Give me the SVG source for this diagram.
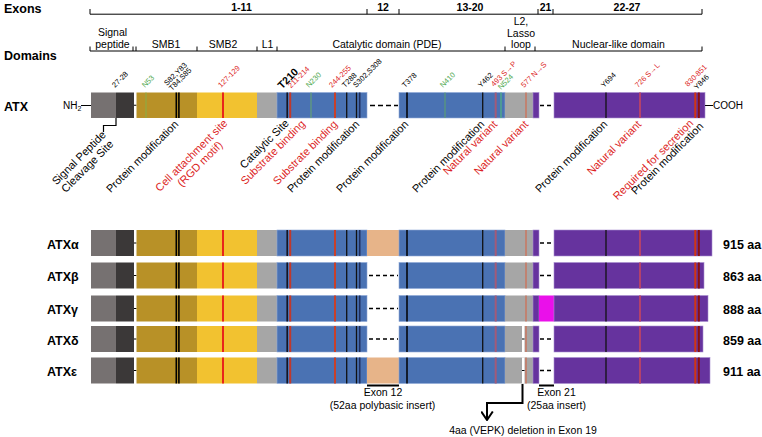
<svg xmlns="http://www.w3.org/2000/svg" width="762" height="437" viewBox="0 0 762 437">
<style>
text{font-family:"Liberation Sans",Arial,sans-serif;fill:#000}
.h{font-size:12.5px;font-weight:bold}
.ex{font-size:10.5px;font-weight:bold;text-anchor:middle}
.dm{font-size:10.5px;text-anchor:middle}
.lb{font-size:11px;text-anchor:end}
.lc{font-size:11px;text-anchor:middle}
.bt{font-size:10.5px;text-anchor:middle}
.sm{font-size:7.5px}
.red{fill:#dc1f1f}
.grn{fill:#4fa84f}
.axis{stroke:#000;stroke-width:1;fill:none}
.k{stroke:#111;stroke-width:1.3}
.dash{stroke:#000;stroke-width:1.3;stroke-dasharray:4 3;fill:none}
.blue{fill:#4a72b3;stroke:#8fa9d8;stroke-width:0.6}
.pur{fill:#66339e;stroke:#a88fd0;stroke-width:0.6}
.gry{fill:#a6a6a6}
.pch{fill:#e7b489}
</style>
<defs>
<g id="left">
<rect x="91" y="0" width="25" height="26" fill="#767171"/>
<rect x="116" y="0" width="18" height="26" fill="#3b3838"/>
<line x1="134" y1="13" x2="136.5" y2="13" stroke="#000" stroke-width="1"/>
<rect x="136.5" y="0" width="60.5" height="26" fill="#b89127"/>
<rect x="197" y="0" width="60" height="26" fill="#f2c230"/>
<rect x="257" y="0" width="20" height="26" class="gry"/>
<rect x="277" y="0" width="90" height="26" class="blue"/>
<line x1="176.3" y1="0" x2="176.3" y2="26" stroke="#000" stroke-width="1.6"/>
<line x1="178.9" y1="0" x2="178.9" y2="26" stroke="#000" stroke-width="1.6"/>
<line x1="223" y1="0" x2="223" y2="26" stroke="#e8261a" stroke-width="2"/>
<line x1="287.2" y1="0" x2="287.2" y2="26" stroke="#151520" stroke-width="1.6"/>
<line x1="290.2" y1="0" x2="290.2" y2="26" stroke="#c0392b" stroke-width="2"/>
<line x1="335" y1="0" x2="335" y2="26" stroke="#c8402a" stroke-width="2"/>
<line x1="346.7" y1="0" x2="346.7" y2="26" class="k"/>
<line x1="356.5" y1="0" x2="356.5" y2="26" class="k"/>
<line x1="359.7" y1="0" x2="359.7" y2="26" stroke="#1f2f5e" stroke-width="1.6"/>
</g>
<g id="mid">
<rect x="399" y="0" width="106" height="26" class="blue"/>
<rect x="505" y="0" width="28" height="26" class="gry"/>
<rect x="533" y="0" width="6" height="26" class="pur"/>
<line x1="407" y1="0" x2="407" y2="26" stroke="#000" stroke-width="1.5"/>
<line x1="482.7" y1="0" x2="482.7" y2="26" class="k"/>
<line x1="495.7" y1="0" x2="495.7" y2="26" stroke="#a35a78" stroke-width="2"/>
<line x1="526" y1="0" x2="526" y2="26" stroke="#c8765f" stroke-width="1.5"/>
</g>
<g id="pm">
<line x1="606" y1="0" x2="606" y2="26" class="k"/>
<line x1="640" y1="0" x2="640" y2="26" stroke="#b4416b" stroke-width="2"/>
<line x1="695.3" y1="0" x2="695.3" y2="26" stroke="#d2350f" stroke-width="2"/>
<line x1="698.8" y1="0" x2="698.8" y2="26" stroke="#8b1010" stroke-width="2"/>
</g>
<g id="del">
<rect x="522" y="0" width="2.5" height="26" fill="#fff"/>
<line x1="522" y1="13" x2="524.5" y2="13" stroke="#000" stroke-width="1"/>
</g>
<marker id="vee" viewBox="0 0 10 13" refX="9" refY="6.5" markerWidth="10" markerHeight="13" markerUnits="userSpaceOnUse" orient="auto">
<path d="M0.5 0.7 L9 6.5 L0.5 12.3" fill="none" stroke="#000" stroke-width="2"/>
</marker>
</defs>
<rect width="762" height="437" fill="#fff"/>

<g id="exons">
<text x="4" y="12.5" class="h">Exons</text>
<path class="axis" d="M90 14.2H702 M90 9V14.2 M367 9V14.2 M399 9V14.2 M538 9V14.2 M553 9V14.2 M702 9V14.2"/>
<text x="241.5" y="11" class="ex">1-11</text>
<text x="383" y="11" class="ex">12</text>
<text x="470" y="11" class="ex">13-20</text>
<text x="545.5" y="11" class="ex">21</text>
<text x="627" y="11" class="ex">22-27</text>
</g>

<g id="domains">
<text x="4" y="59.5" class="h">Domains</text>
<path class="axis" d="M90 51H702 M90 46.5V51 M133 46.5V51 M136 46.5V51 M197 46.5V51 M257 46.5V51 M277 46.5V51 M505 46.5V51 M535 46.5V51 M702 46.5V51"/>
<text x="112.5" y="36" class="dm">Signal</text>
<text x="112.5" y="48" class="dm">peptide</text>
<text x="166" y="48" class="dm">SMB1</text>
<text x="223" y="48" class="dm">SMB2</text>
<text x="267.5" y="48" class="dm">L1</text>
<text x="387" y="48" class="dm">Catalytic domain (PDE)</text>
<text x="521" y="25" class="dm">L2,</text>
<text x="521" y="36.5" class="dm">Lasso</text>
<text x="521" y="48" class="dm">loop</text>
<text x="618.5" y="48" class="dm">Nuclear-like domain</text>
</g>

<g id="atx">
<text x="4" y="110.5" class="h">ATX</text>
<text x="63" y="108.5" style="font-size:10px">NH<tspan dy="2.5" style="font-size:7px">2</tspan></text>
<text x="713" y="109" style="font-size:10px">COOH</text>
<g transform="translate(0,92.5) scale(1,0.98)">
<use href="#left"/>
<use href="#mid"/>
<rect x="554" y="0" width="151" height="26" class="pur"/>
<use href="#pm"/>
<line x1="146" y1="0" x2="146" y2="26" stroke="#86b04a" stroke-width="1"/>
<line x1="311" y1="0" x2="311" y2="26" stroke="#6aaa6a" stroke-width="1"/>
<line x1="445" y1="0" x2="445" y2="26" stroke="#5ea56a" stroke-width="1"/>
<line x1="501" y1="0" x2="501" y2="26" stroke="#4fa88a" stroke-width="1.5"/>
</g>
</g>

<g id="atx-sites">
<text class="sm" transform="translate(115,88) rotate(-45)">27-28</text>
<text class="sm grn" transform="translate(145,88) rotate(-45)">N53</text>
<text class="sm" transform="translate(167,86) rotate(-45)"><tspan x="0" y="0">S82,Y83</tspan><tspan x="0" y="7">T84,S85</tspan></text>
<text class="sm red" transform="translate(221,88) rotate(-45)">127-129</text>
<text transform="translate(282,89.5) rotate(-45)" style="font-size:10.5px;font-weight:bold">T210</text>
<text class="sm red" transform="translate(291,88.5) rotate(-45)">211-214</text>
<text class="sm grn" transform="translate(309,88) rotate(-45)">N230</text>
<text class="sm red" transform="translate(332,88) rotate(-45)">244-255</text>
<text class="sm" transform="translate(345,88) rotate(-45)">T288</text>
<text class="sm" transform="translate(356,88) rotate(-45)">S302,S308</text>
<text class="sm" transform="translate(405,88) rotate(-45)">T378</text>
<text class="sm grn" transform="translate(443,88) rotate(-45)">N410</text>
<text class="sm" transform="translate(481,88) rotate(-45)">Y462</text>
<text class="sm red" transform="translate(494,87) rotate(-45)">493 S→P</text>
<text class="sm grn" transform="translate(501,90) rotate(-45)">N524</text>
<text class="sm red" transform="translate(524,88) rotate(-45)">577 N→S</text>
<text class="sm" transform="translate(604,88) rotate(-45)">Y694</text>
<text class="sm red" transform="translate(638,88) rotate(-45)">726 S→L</text>
<text class="sm red" transform="translate(688,87) rotate(-45)">830-851</text>
<text class="sm" transform="translate(697,90) rotate(-45)">Y846</text>
</g>

<g id="atx-features">
<text class="lc" transform="translate(81.5,160.5) rotate(-45)"><tspan x="0" y="0">Signal Peptide</tspan><tspan x="0" y="12">Cleavage Site</tspan></text>
<text class="lb" transform="translate(179,125) rotate(-45)">Protein modification</text>
<text class="lc red" transform="translate(194,158) rotate(-45)"><tspan x="0" y="0">Cell attachment site</tspan><tspan x="0" y="12">(RGD motif)</tspan></text>
<text class="lc" transform="translate(267,146.5) rotate(-45)"><tspan x="0" y="0">Catalytic Site</tspan><tspan x="0" y="12" class="red">Substrate binding</tspan></text>
<text class="lb red" transform="translate(338,125) rotate(-45)">Substrate binding</text>
<text class="lb" transform="translate(360,125) rotate(-45)">Protein modification</text>
<text class="lb" transform="translate(409,125) rotate(-45)">Protein modification</text>
<text class="lb" transform="translate(485,125) rotate(-45)">Protein modification</text>
<text class="lb red" transform="translate(498,125) rotate(-45)">Natural variant</text>
<text class="lb red" transform="translate(529,125) rotate(-45)">Natural variant</text>
<text class="lb" transform="translate(608,125) rotate(-45)">Protein modification</text>
<text class="lb red" transform="translate(642,125) rotate(-45)">Natural variant</text>
<text class="lb red" transform="translate(694,124) rotate(-45)">Required for secretion</text>
<text class="lb" transform="translate(704,127) rotate(-45)">Protein modification</text>
</g>

<g id="atx-alpha">
<text x="47" y="248.5" class="h">ATXα</text>
<text x="723" y="248.5" class="h">915 aa</text>
<g transform="translate(0,230)">
<use href="#left"/>
<rect x="367" y="0" width="32" height="26" class="pch"/>
<use href="#mid"/>
<rect x="554" y="0" width="158" height="26" class="pur"/>
<use href="#pm"/>
</g>
</g>

<g id="atx-beta">
<text x="47" y="281" class="h">ATXβ</text>
<text x="723" y="281" class="h">863 aa</text>
<g transform="translate(0,262.5)">
<use href="#left"/>
<use href="#mid"/>
<rect x="554" y="0" width="150" height="26" class="pur"/>
<use href="#pm"/>
</g>
</g>

<g id="atx-gamma">
<text x="47" y="314" class="h">ATXγ</text>
<text x="723" y="314" class="h">888 aa</text>
<g transform="translate(0,295.5)">
<use href="#left"/>
<use href="#mid"/>
<rect x="539" y="0" width="15" height="26" fill="#ea10ea"/>
<rect x="554" y="0" width="154" height="26" class="pur"/>
<use href="#pm"/>
</g>
</g>

<g id="atx-delta">
<text x="47" y="344.5" class="h">ATXδ</text>
<text x="723" y="344.5" class="h">859 aa</text>
<g transform="translate(0,326)">
<use href="#left"/>
<use href="#mid"/>
<use href="#del"/>
<rect x="554" y="0" width="149" height="26" class="pur"/>
<use href="#pm"/>
</g>
</g>

<g id="atx-epsilon">
<text x="47" y="376" class="h">ATXε</text>
<text x="723" y="376" class="h">911 aa</text>
<g transform="translate(0,357.5)">
<use href="#left"/>
<rect x="367" y="0" width="32" height="26" class="pch"/>
<use href="#mid"/>
<use href="#del"/>
<rect x="554" y="0" width="156" height="26" class="pur"/>
<use href="#pm"/>
</g>
</g>

<g id="connectors">
<line x1="81" y1="105.5" x2="91" y2="105.5" stroke="#000" stroke-width="1"/>
<line x1="705" y1="105.5" x2="713" y2="105.5" stroke="#000" stroke-width="1"/>
<path d="M116 118V125.5H103.5V132" fill="none" stroke="#000" stroke-width="1.2"/>
<path d="M370 105.5H398" fill="none" stroke="#000" stroke-width="1.5" stroke-dasharray="5 3"/>
<path d="M540 105.5H552" fill="none" stroke="#000" stroke-width="1.5" stroke-dasharray="4 3"/>
<path class="dash" d="M540 243H553"/>
<path class="dash" d="M369 275.5H398"/>
<path class="dash" d="M540 275.5H553"/>
<path class="dash" d="M369 308.5H398"/>
<path class="dash" d="M369 339H398"/>
<path class="dash" d="M540 339H553"/>
<path class="dash" d="M540 370.5H553"/>
<line x1="367" y1="385.5" x2="399" y2="385.5" stroke="#000" stroke-width="2"/>
<line x1="539" y1="385.5" x2="554" y2="385.5" stroke="#000" stroke-width="2"/>
<path d="M522.5 384V403H487V420" fill="none" stroke="#000" stroke-width="2" marker-end="url(#vee)"/>
</g>

<g id="annotations">
<text x="383" y="395.5" class="bt">Exon 12</text>
<text x="382.5" y="409" class="bt">(52aa polybasic insert)</text>
<text x="556.5" y="395.5" class="bt">Exon 21</text>
<text x="556.5" y="409" class="bt">(25aa insert)</text>
<text x="523" y="434" class="bt">4aa (VEPK) deletion in Exon 19</text>
</g>
</svg>
